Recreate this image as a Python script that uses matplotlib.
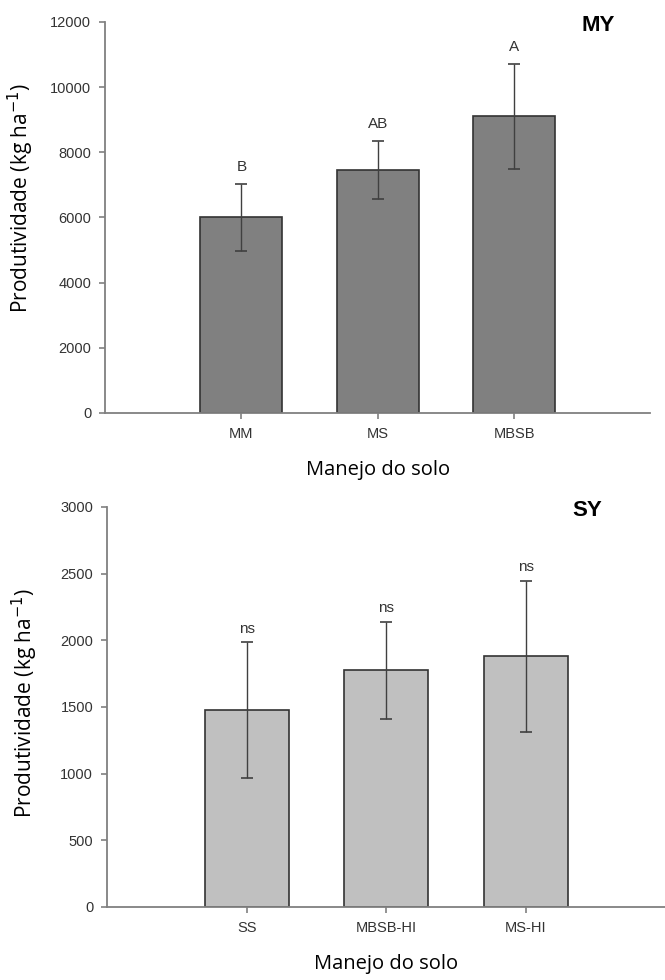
import matplotlib.pyplot as plt
import numpy as np

# produtividade de milho (MY) e soja (SY) por manejo do solo
my_cats = ["MM", "MS", "MBSB"]
my_mean = [6000, 7450, 9100]
my_err = [1025, 890, 1610]
my_letters = ["B", "AB", "A"]

sy_cats = ["SS", "MBSB-HI", "MS-HI"]
sy_mean = [1475, 1775, 1880]
sy_err = [510, 362, 568]
sy_letters = ["ns", "ns", "ns"]

narrow = ["Liberation Sans Narrow", "Liberation Sans", "DejaVu Sans"]
label_font = ["Open Sans", "DejaVu Sans"]

fig = plt.figure(figsize=(6.65, 9.8), dpi=100)
ax1 = fig.add_axes([0.158, 0.5786, 0.82, 0.3990])
ax2 = fig.add_axes([0.161, 0.0745, 0.84, 0.4082])


def draw(ax, cats, mean, err, letters, color, ymax, step, gap, tag, tag_x, lab_xy):
    x = np.arange(len(cats))
    ax.bar(x, mean, width=0.6, color=color, edgecolor="#333333", linewidth=1.2)
    ax.errorbar(x, mean, yerr=err, fmt="none", ecolor="#404040",
                elinewidth=1.0, capsize=4.5, capthick=1.2)
    for xi, m, e, t in zip(x, mean, err, letters):
        ax.text(xi, m + e + gap, t, ha="center", va="bottom", fontsize=11,
                family=narrow, color="#333333")
    ax.set_xlim(-1.0, 3.0)
    ax.set_ylim(0, ymax)
    ax.set_yticks(np.arange(0, ymax + 1, step))
    ax.set_xticks(x)
    ax.set_xticklabels(cats)
    for s in ["top", "right"]:
        ax.spines[s].set_visible(False)
    for s in ["left", "bottom"]:
        ax.spines[s].set_color("#808080")
        ax.spines[s].set_linewidth(1.3)
    ax.tick_params(colors="#808080", length=4, width=1.2, pad=6)
    for lb in ax.get_xticklabels() + ax.get_yticklabels():
        lb.set_family(narrow)
        lb.set_fontsize(10.5)
        lb.set_color("#333333")
    ax.set_ylabel("Produtividade (kg ha$^{-1}$)", fontsize=15, family=label_font)
    ax.yaxis.set_label_coords(*lab_xy)
    ax.set_xlabel("Manejo do solo", fontsize=14.5, family=label_font, labelpad=14)
    ax.text(tag_x, 0.99, tag, transform=ax.transAxes, ha="center", va="center",
            fontsize=16, fontweight="bold", family=narrow)


draw(ax1, my_cats, my_mean, my_err, my_letters, "#808080", 12000, 2000, 300,
     "MY", 0.905, (-0.127, 0.55))
draw(ax2, sy_cats, sy_mean, sy_err, sy_letters, "#c0c0c0", 3000, 500, 50,
     "SY", 0.86, (-0.12, 0.51))

fig.savefig("out.png", dpi=100)
